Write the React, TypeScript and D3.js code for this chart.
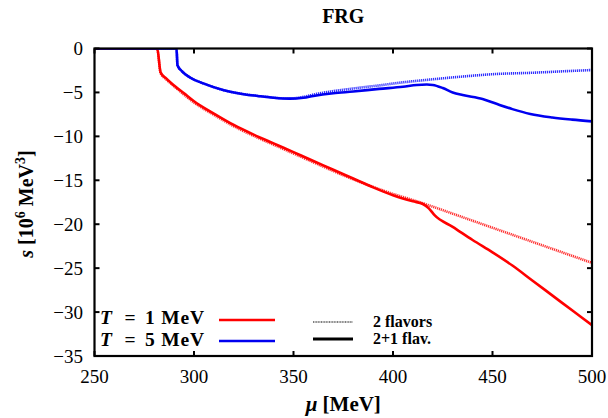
import React from "react";
import * as d3 from "d3";

// ---- data ----
const muRed2 = [250, 281.5, 283.2, 286, 290, 295, 300, 310, 320, 330, 340, 350, 360, 370, 380, 390, 400, 410, 420, 430, 440, 450, 460, 470, 480, 490, 500];
const sRed2 = [0, 0, -2.8, -3.5, -4.3, -5.25, -6.15, -7.55, -8.85, -9.95, -10.95, -11.95, -12.95, -13.95, -14.9, -15.75, -16.55, -17.25, -18.0, -18.8, -19.6, -20.4, -21.2, -22.0, -22.8, -23.6, -24.4];

const muRed21 = [250, 281.5, 283.2, 286, 290, 295, 300, 310, 320, 330, 340, 350, 360, 370, 380, 390, 400, 410, 415, 418, 421, 430, 440, 450, 460, 470, 480, 490, 500];
const sRed21 = [0, 0, -2.7, -3.4, -4.2, -5.1, -6.0, -7.4, -8.7, -9.8, -10.8, -11.8, -12.8, -13.8, -14.8, -15.8, -16.7, -17.4, -17.7, -18.2, -19.0, -20.3, -21.8, -23.2, -24.7, -26.4, -28.1, -29.8, -31.5];

const muBlue2 = [250, 291.2, 291.7, 294, 298, 305, 315, 325, 332, 340, 348, 355, 362, 370, 380, 393, 405, 417, 435, 452, 469, 485, 500];
const sBlue2 = [0, 0, -1.9, -2.6, -3.3, -4.0, -4.75, -5.2, -5.4, -5.6, -5.7, -5.5, -5.15, -4.85, -4.55, -4.2, -3.85, -3.57, -3.19, -2.9, -2.77, -2.6, -2.45];

const muBlue21 = [250, 291.2, 291.7, 294, 298, 305, 315, 325, 332, 340, 348, 355, 360, 370, 380, 393, 405, 412, 417, 420, 425, 430, 435, 445, 452, 460, 469, 480, 490, 500];
const sBlue21 = [0, 0, -1.9, -2.6, -3.3, -4.0, -4.75, -5.2, -5.4, -5.6, -5.7, -5.6, -5.4, -5.1, -4.9, -4.6, -4.35, -4.15, -4.1, -4.15, -4.5, -5.0, -5.3, -5.75, -6.3, -6.9, -7.45, -7.85, -8.1, -8.3];

const xTicks = [250, 300, 350, 400, 450, 500];
const yTicks = [0, -5, -10, -15, -20, -25, -30, -35];
const legendT = ["1", "5"];

const W = 608, H = 418;
const L = 94.5, R = 592, T = 48.5, B = 356;
const FONT = "Liberation Serif, serif";

export default function App() {
  const x = d3.scaleLinear().domain([250, 500]).range([L, R]);
  const y = d3.scaleLinear().domain([-35, 0]).range([B, T]);
  const path = (mu: number[], s: number[]) => {
    const pts: [number, number][] = mu.map((m, i) => [x(m), y(s[i])]);
    return d3.line().curve(d3.curveMonotoneX)(pts) || "";
  };
  const tickLen = 5;
  const fmt = (v: number) => (v < 0 ? "\u2212" + Math.abs(v) : String(v));
  const rowY = [324, 346];

  return (
    <svg width={W} height={H} style={{ position: "absolute", left: 0, top: 0, background: "#fff" }} fontFamily={FONT}>
      <defs>
        <clipPath id="plotclip">
          <rect x={L} y={T} width={R - L} height={B - T} />
        </clipPath>
      </defs>
      {/* title */}
      <text x={(L + R) / 2} y={23} textAnchor="middle" fontWeight="bold" fontSize={20}>FRG</text>

      {/* curves */}
      <g clipPath="url(#plotclip)" fill="none">
        <path d={path(muRed2, sRed2)} stroke="#ff3030" strokeWidth={2.6} strokeDasharray="1.2,0.8" />
        <path d={path(muBlue2, sBlue2)} stroke="#3030ff" strokeWidth={2.6} strokeDasharray="1.2,0.8" />
        <path d={path(muRed21, sRed21)} stroke="#ff0000" strokeWidth={2.6} />
        <path d={path(muBlue21, sBlue21)} stroke="#0000f0" strokeWidth={2.6} />
      </g>

      {/* ticks */}
      <g stroke="#000" strokeWidth={2}>
        {xTicks.map((v) => (
          <g key={"xt" + v}>
            <line x1={x(v)} x2={x(v)} y1={B} y2={B - tickLen} />
            <line x1={x(v)} x2={x(v)} y1={T} y2={T + tickLen} />
          </g>
        ))}
        {yTicks.map((v) => (
          <g key={"yt" + v}>
            <line x1={L} x2={L + tickLen} y1={y(v)} y2={y(v)} />
            <line x1={R} x2={R - tickLen} y1={y(v)} y2={y(v)} />
          </g>
        ))}
      </g>
      {/* frame */}
      <rect x={L} y={T} width={R - L} height={B - T} fill="none" stroke="#000" strokeWidth={2.2} />

      {/* tick labels */}
      {xTicks.map((v) => (
        <text key={"xl" + v} x={x(v)} y={383} textAnchor="middle" fontSize={19}>{fmt(v)}</text>
      ))}
      {yTicks.map((v) => (
        <text key={"yl" + v} x={83} y={y(v) + 6.5} textAnchor="end" fontSize={19}>{fmt(v)}</text>
      ))}

      {/* axis labels */}
      <text x={(L + R) / 2} y={411} textAnchor="middle" fontWeight="bold" fontSize={21}>
        <tspan fontStyle="italic">μ</tspan> [MeV]
      </text>
      <text transform={`translate(33, 204) rotate(-90)`} textAnchor="middle" fontWeight="bold" fontSize={20}>
        <tspan fontStyle="italic">s</tspan> [10<tspan fontSize={14} dy={-8}>6</tspan>
        <tspan dy={8}> MeV</tspan><tspan fontSize={14} dy={-8}>3</tspan><tspan dy={8}>]</tspan>
      </text>

      {/* legend */}
      {legendT.map((t, i) => (
        <g key={"lt" + t} fontWeight="bold" fontSize={19.5}>
          <text x={100} y={rowY[i]} fontStyle="italic">T</text>
          <text x={130} y={rowY[i]} textAnchor="middle">=</text>
          <text x={145} y={rowY[i]} letterSpacing={0.8}>{t + " MeV"}</text>
        </g>
      ))}
      <line x1={219} x2={275} y1={320} y2={320} stroke="#ff0000" strokeWidth={2.6} />
      <line x1={219} x2={275} y1={341} y2={341} stroke="#0000f0" strokeWidth={2.6} />
      <line x1={313} x2={353} y1={322} y2={322} stroke="#555" strokeWidth={1.6} strokeDasharray="1,0.6" />
      <line x1={313} x2={353} y1={339} y2={339} stroke="#000" strokeWidth={2.8} />
      <text x={373} y={327} fontWeight="bold" fontSize={16}>2 flavors</text>
      <text x={373} y={344} fontWeight="bold" fontSize={16}>2+1 flav.</text>
    </svg>
  );
}
